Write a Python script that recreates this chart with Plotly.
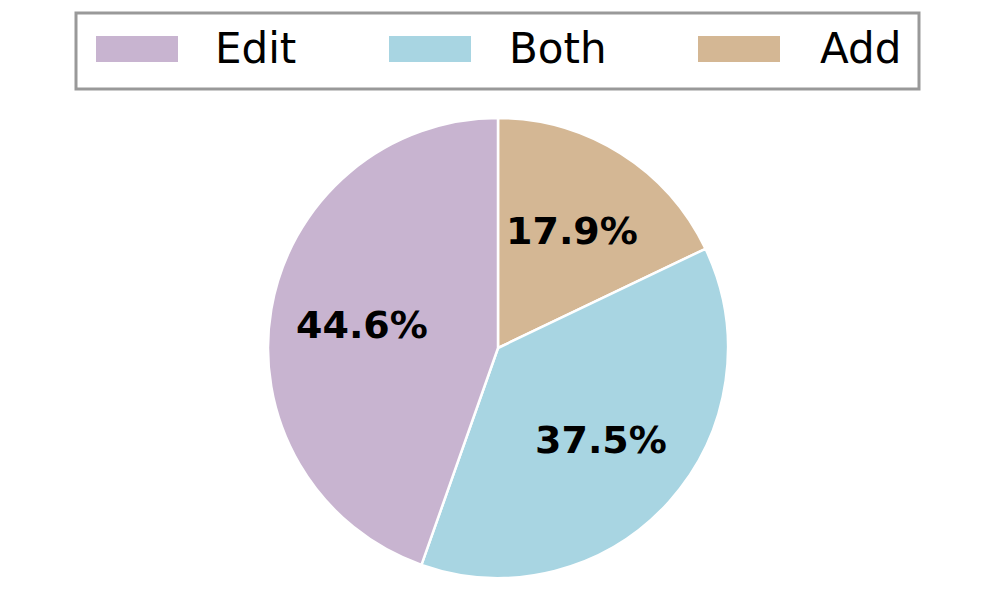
import math
import plotly.graph_objects as go

categories = ["Edit", "Both", "Add"]
values = [44.6, 37.5, 17.9]
colors = ["#C8B4D0", "#A8D5E2", "#D4B794"]

W, H = 996, 616
OFF = 8  # page body margin
CX, CY, R = 498 - OFF, 348 - OFF, 230

# slices run counterclockwise from 12 o'clock: same as clockwise in reversed order
fig = go.Figure()
fig.add_trace(go.Pie(
    labels=categories[::-1],
    values=values[::-1],
    sort=False,
    direction="clockwise",
    rotation=0,
    marker=dict(colors=colors[::-1], line=dict(color="white", width=2.5)),
    textinfo="none",
    domain=dict(x=[(CX - R) / W, (CX + R) / W], y=[1 - (CY + R) / H, 1 - (CY - R) / H]),
    showlegend=False,
    hoverinfo="label+percent",
))

annotations = []
# percentage labels at 0.6 of the radius
total = sum(values)
cum = 0.0
for v in values:
    theta = math.radians(90 + 360 * (cum + v / 2) / total)
    cum += v
    px = CX + 0.6 * R * math.cos(theta)
    py = CY - 0.6 * R * math.sin(theta)
    annotations.append(dict(text=f"{100 * v / total:.1f}%", xref="paper", yref="paper",
                            x=px / W, y=1 - py / H, xanchor="center", yanchor="middle",
                            showarrow=False,
                            font=dict(family="DejaVu Sans", size=38, color="black", weight="bold")))

# legend drawn as box, patches and text
shapes = [dict(type="rect", xref="paper", yref="paper",
               x0=(76 - OFF) / W, x1=(919 - OFF) / W, y0=1 - (89 - OFF) / H, y1=1 - (13 - OFF) / H,
               line=dict(color="#999999", width=3), fillcolor="white", layer="below")]
patch_x = [96, 389, 698]
text_x = [213, 507, 818]
for cat, col, px, tx in zip(categories, colors, patch_x, text_x):
    shapes.append(dict(type="rect", xref="paper", yref="paper",
                       x0=(px - OFF) / W, x1=(px + 82 - OFF) / W,
                       y0=1 - (62 - OFF) / H, y1=1 - (36 - OFF) / H,
                       line=dict(width=0), fillcolor=col))
    annotations.append(dict(text=cat, xref="paper", yref="paper", x=(tx - OFF) / W, y=1 - 40.5 / H,
                            xanchor="left", yanchor="middle", showarrow=False,
                            font=dict(family="DejaVu Sans", size=42, color="black")))

fig.update_layout(
    width=W, height=H,
    margin=dict(l=0, r=0, t=0, b=0),
    paper_bgcolor="white", plot_bgcolor="white",
    shapes=shapes, annotations=annotations,
)

fig.write_html("out.html")
